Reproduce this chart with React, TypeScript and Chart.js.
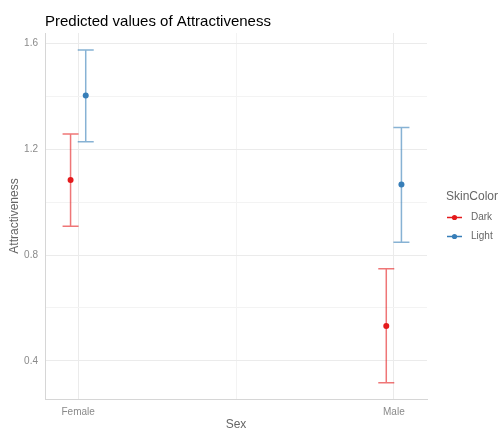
import React, { useEffect, useRef } from "react";
import { Chart, registerables } from "chart.js";

Chart.register(...registerables);

// ---- data ----
const categories = ["Female", "Male"];
const seriesNames = ["Dark", "Light"];
const seriesColors = ["#E41A1C", "#377EB8"];
const seriesBarColors = ["rgba(228,26,28,0.6)", "rgba(55,126,184,0.6)"];
const darkPredicted = [1.084, 0.532];
const darkLower = [0.909, 0.317];
const darkUpper = [1.257, 0.748];
const lightPredicted = [1.403, 1.067];
const lightLower = [1.228, 0.848];
const lightUpper = [1.575, 1.282];
const yTickValues = [0.4, 0.6, 0.8, 1.0, 1.2, 1.4, 1.6];
const yTickLabels = ["0.4", "", "0.8", "", "1.2", "", "1.6"];
const xTickValues = [1, 1.5, 2];
const xTickLabels = ["Female", "", "Male"];
const titleText = "Predicted values of Attractiveness";
const xTitle = "Sex";
const yTitle = "Attractiveness";
const legendTitle = "SkinColor";

const FONT = "'Liberation Sans', Arial, Helvetica, sans-serif";
const dodge = [-0.024, 0.024];

const seriesPred = [darkPredicted, lightPredicted];
const seriesLow = [darkLower, lightLower];
const seriesHigh = [darkUpper, lightUpper];

const errorBarPlugin = {
  id: "errorBars",
  beforeDatasetsDraw(chart: any) {
    const ctx = chart.ctx;
    const xs = chart.scales.x;
    const ys = chart.scales.y;
    chart.data.datasets.forEach((ds: any) => {
      ctx.save();
      ctx.strokeStyle = ds.barColor;
      ctx.lineWidth = 1.5;
      ds.data.forEach((pt: any, i: number) => {
        const x = xs.getPixelForValue(pt.x);
        const y1 = ys.getPixelForValue(ds.lower[i]);
        const y2 = ys.getPixelForValue(ds.upper[i]);
        const hw = 8;
        ctx.beginPath();
        ctx.moveTo(x, y1);
        ctx.lineTo(x, y2);
        ctx.moveTo(x - hw, y1);
        ctx.lineTo(x + hw, y1);
        ctx.moveTo(x - hw, y2);
        ctx.lineTo(x + hw, y2);
        ctx.stroke();
      });
      ctx.restore();
    });
  },
};

const textPlugin = {
  id: "texts",
  afterDraw(chart: any) {
    const ctx = chart.ctx;
    const area = chart.chartArea;
    ctx.save();
    // title
    ctx.fillStyle = "#000000";
    ctx.font = `15px ${FONT}`;
    ctx.textAlign = "left";
    ctx.textBaseline = "alphabetic";
    ctx.fillText(titleText, area.left, 25.5);
    // axis titles
    ctx.fillStyle = "#666666";
    ctx.font = `12px ${FONT}`;
    ctx.textAlign = "center";
    ctx.textBaseline = "middle";
    ctx.fillText(xTitle, (area.left + area.right) / 2, 425);
    ctx.save();
    ctx.translate(15, (area.top + area.bottom) / 2);
    ctx.rotate(-Math.PI / 2);
    ctx.fillText(yTitle, 0, 0);
    ctx.restore();
    // legend
    ctx.textAlign = "left";
    ctx.font = `12px ${FONT}`;
    ctx.fillStyle = "#666666";
    ctx.fillText(legendTitle, 446, 197);
    ctx.font = `10px ${FONT}`;
    seriesNames.forEach((name, i) => {
      const y = 217.5 + i * 19;
      ctx.strokeStyle = seriesColors[i];
      ctx.lineWidth = 1.5;
      ctx.beginPath();
      ctx.moveTo(447, y);
      ctx.lineTo(462, y);
      ctx.stroke();
      ctx.fillStyle = seriesColors[i];
      ctx.beginPath();
      ctx.arc(454.5, y, 2.6, 0, Math.PI * 2);
      ctx.fill();
      ctx.fillStyle = "#666666";
      ctx.fillText(name, 471, y);
    });
    ctx.restore();
  },
};

export default function App() {
  const ref = useRef<HTMLCanvasElement>(null);
  useEffect(() => {
    if (!ref.current) return;
    const datasets = seriesNames.map((name, s) => ({
      label: name,
      data: categories.map((_, i) => ({ x: i + 1 + dodge[s], y: seriesPred[s][i] })),
      lower: seriesLow[s],
      upper: seriesHigh[s],
      barColor: seriesBarColors[s],
      backgroundColor: seriesColors[s],
      borderColor: seriesColors[s],
      pointRadius: 3,
      pointBorderWidth: 0,
      showLine: false,
    }));
    const chart = new Chart(ref.current, {
      type: "scatter",
      data: { datasets } as any,
      plugins: [errorBarPlugin, textPlugin],
      options: {
        animation: false,
        responsive: false,
        layout: { padding: { top: 33, right: 76, left: 0, bottom: 0 } },
        plugins: { legend: { display: false }, tooltip: { enabled: false }, title: { display: false } },
        scales: {
          x: {
            type: "linear",
            min: 0.895,
            max: 2.105,
            afterBuildTicks: (scale: any) => {
              scale.ticks = xTickValues.map((v) => ({ value: v }));
            },
            afterFit: (scale: any) => {
              scale.height = 32;
            },
            ticks: {
              autoSkip: false,
              maxRotation: 0,
              padding: 7,
              color: "#8a8a8a",
              font: { family: FONT, size: 10 },
              callback: (_v: any, i: number) => xTickLabels[i],
            },
            grid: {
              drawTicks: false,
              color: (c: any) => (c.index % 2 === 0 ? "#ebebeb" : "#f3f3f3"),
              lineWidth: 1,
            },
            border: { display: true, color: "#d6d6d6", width: 1 },
          },
          y: {
            type: "linear",
            min: 0.256,
            max: 1.639,
            afterBuildTicks: (scale: any) => {
              scale.ticks = yTickValues.map((v) => ({ value: v }));
            },
            afterFit: (scale: any) => {
              scale.width = 45;
            },
            ticks: {
              autoSkip: false,
              padding: 7,
              color: "#8a8a8a",
              font: { family: FONT, size: 10 },
              callback: (_v: any, i: number) => yTickLabels[i],
            },
            grid: {
              drawTicks: false,
              color: (c: any) => (c.index % 2 === 0 ? "#ebebeb" : "#f3f3f3"),
              lineWidth: 1,
            },
            border: { display: true, color: "#d6d6d6", width: 1 },
          },
        },
      } as any,
    });
    return () => chart.destroy();
  }, []);
  return (
    <div style={{ position: "absolute", left: 0, top: 0, width: 503, height: 431, background: "#ffffff" }}>
      <canvas ref={ref} width={503} height={431} style={{ display: "block", width: 503, height: 431 }} />
    </div>
  );
}
